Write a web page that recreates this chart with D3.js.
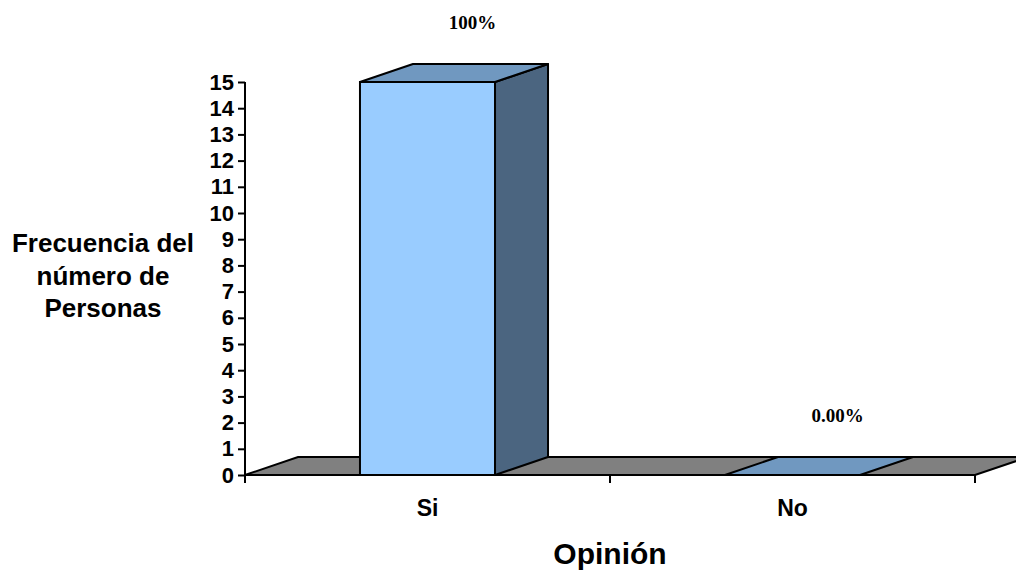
<!DOCTYPE html>
<html>
<head>
<meta charset="utf-8">
<script src="https://cdn.jsdelivr.net/npm/d3@7"></script>
<style>
  body { margin: 0; background: #fff; }
  text { font-family: Arial, "Liberation Sans", sans-serif; font-weight: bold; }
  .pct { font-family: "Times New Roman", "Liberation Serif", serif; }
</style>
</head>
<body>
<div id="chart"></div>
<script>
const categories = ["Si", "No"];
const frequencies = [15, 0];
const pctLabels = ["100%", "0.00%"];
const yTicks = d3.range(0, 16);
const yTitle = ["Frecuencia del", "número de", "Personas"];
const xTitle = "Opinión";

const width = 1016, height = 571;
const depth = {dx: 53, dy: -18};

const svg = d3.select("#chart").append("svg")
    .attr("width", width)
    .attr("height", height);

const x = d3.scaleBand().domain(categories).range([245, 975]).padding(0);
const y = d3.scaleLinear().domain([0, 15]).range([475, 82]);
const barW = x.bandwidth() * 0.37;

// floor
const x0 = 245, x1 = 975, y0 = y(0);
svg.append("polygon")
    .attr("points", [[x0, y0], [x1, y0], [x1 + depth.dx, y0 + depth.dy], [x0 + depth.dx, y0 + depth.dy]].join(" "))
    .attr("fill", "#808080")
    .attr("stroke", "#000")
    .attr("stroke-width", 2);

// bars
const bars = svg.append("g").selectAll("g")
    .data(categories.map((c, i) => ({cat: c, v: frequencies[i], lab: pctLabels[i]})))
    .enter().append("g");

bars.each(function (d) {
    const g = d3.select(this);
    const bx = x(d.cat) + (x.bandwidth() - barW) / 2;
    const top = y(d.v);
    if (d.v > 0) {
        g.append("rect")
            .attr("x", bx).attr("y", top)
            .attr("width", barW).attr("height", y0 - top)
            .attr("fill", "#99ccff").attr("stroke", "#000").attr("stroke-width", 2);
        g.append("polygon")
            .attr("points", [[bx + barW, y0], [bx + barW, top], [bx + barW + depth.dx, top + depth.dy], [bx + barW + depth.dx, y0 + depth.dy]].join(" "))
            .attr("fill", "#4b6580").attr("stroke", "#000").attr("stroke-width", 2).attr("stroke-linejoin", "round");
    }
    g.append("polygon")
        .attr("points", [[bx, top], [bx + depth.dx, top + depth.dy], [bx + barW + depth.dx, top + depth.dy], [bx + barW, top]].join(" "))
        .attr("fill", "#7098c0").attr("stroke", "#000").attr("stroke-width", 2).attr("stroke-linejoin", "round");
    g.append("text")
        .attr("class", "pct")
        .attr("x", bx + barW / 2 + depth.dx * 0.85)
        .attr("y", top + depth.dy - 35)
        .attr("text-anchor", "middle")
        .attr("font-size", 19)
        .text(d.lab);
});

// y axis
const yAxis = svg.append("g")
    .attr("transform", `translate(${x0},0)`)
    .call(d3.axisLeft(y).tickValues(yTicks).tickSize(7).tickPadding(4).tickFormat(d3.format("d")));
yAxis.select(".domain").attr("stroke", "#000").attr("stroke-width", 2).attr("d", `M-0,${y(15)}V${y0}`);
yAxis.selectAll(".tick line").attr("stroke", "#000").attr("stroke-width", 2);
yAxis.selectAll(".tick text")
    .attr("fill", "#000")
    .attr("font-size", 22)
    .attr("font-family", "Arial, 'Liberation Sans', sans-serif")
    .attr("font-weight", "bold");

// x axis ticks (band boundaries)
const xBounds = [x0].concat(categories.map(c => x(c) + x.bandwidth()));
svg.append("g").selectAll("line")
    .data(xBounds)
    .enter().append("line")
    .attr("x1", d => d).attr("x2", d => d)
    .attr("y1", y0).attr("y2", y0 + 8)
    .attr("stroke", "#000").attr("stroke-width", 2);

svg.append("g").selectAll("text")
    .data(categories)
    .enter().append("text")
    .attr("x", d => x(d) + x.bandwidth() / 2)
    .attr("y", 516)
    .attr("text-anchor", "middle")
    .attr("font-size", 23)
    .text(d => d);

// titles
svg.append("text")
    .attr("x", 610).attr("y", 564)
    .attr("text-anchor", "middle")
    .attr("font-size", 30)
    .text(xTitle);

svg.append("g").selectAll("text")
    .data(yTitle)
    .enter().append("text")
    .attr("x", 103)
    .attr("y", (d, i) => 252 + i * 32.5)
    .attr("text-anchor", "middle")
    .attr("font-size", 26)
    .text(d => d);
</script>
</body>
</html>
